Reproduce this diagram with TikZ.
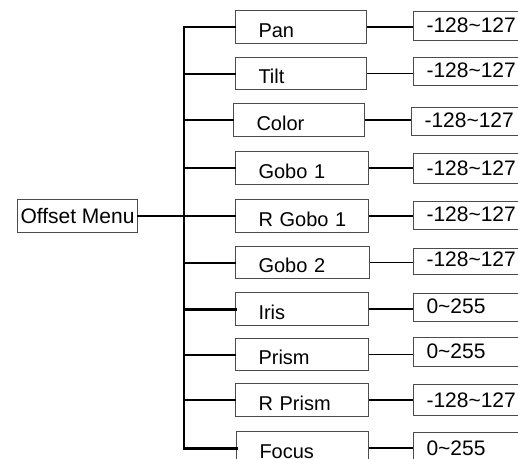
\documentclass[tikz,border=0pt]{standalone}
\usepackage{fontspec}
\setmainfont{Liberation Sans}
\tikzset{
  menubox/.style={draw=black!70, line width=1pt, anchor=north west, inner ysep=0pt, inner xsep=3pt,
    minimum width=120pt, text height=24pt, text depth=9pt, font=\fontsize{21}{25}\selectfont},
  namebox/.style={draw=black!70, line width=1pt, anchor=north west, inner ysep=0pt, inner xsep=23pt,
    text width=87pt, align=left, text height=27pt, text depth=6pt, font=\fontsize{20}{24}\selectfont},
  valuebox/.style={draw=black!70, line width=1pt, anchor=north west, inner ysep=0pt, inner xsep=13pt,
    text width=94pt, align=left, text height=21pt, text depth=8pt, font=\fontsize{21}{25}\selectfont},
  branch/.style={line width=2pt, line cap=rect},
  link/.style={line width=1.5pt},
}
\begin{document}
\begin{tikzpicture}[x=1pt,y=-1pt]
            \useasboundingbox (0,0) rectangle (518,458);
            \clip (0,0) rectangle (518,458);

            \node[menubox] (offset) at (17,199) {Offset Menu};

            \coordinate (trunk) at (184,0);

            \node[namebox, text width=85pt] (pan) at (235,10) {Pan};
            \node[namebox, text width=85pt, text height=26pt] (tilt) at (235,57) {Tilt};
            \node[namebox, text width=85pt] (color) at (233,103) {Color};
            \node[namebox] (gobo) at (235,151) {Gobo~1};
            \node[namebox] (rgobo) at (235,199) {R~Gobo~1};
            \node[namebox, text width=88pt, text height=26pt] (gobotwo) at (235,246) {Gobo~2};
            \node[namebox] (iris) at (235,292) {Iris};
            \node[namebox, text height=26pt] (prism) at (235,338) {Prism};
            \node[namebox] (rprism) at (235,383) {R~Prism};
            \node[namebox, text width=86pt] (focus) at (236,431) {Focus};

            \node[valuebox] (panv) at (413,11) {-128\textasciitilde127};
            \node[valuebox, text height=20pt] (tiltv) at (413,57) {-128\textasciitilde127};
            \node[valuebox, text height=20pt] (colorv) at (411,107) {-128\textasciitilde127};
            \node[valuebox, text height=22pt] (gobov) at (413,153) {-128\textasciitilde127};
            \node[valuebox, text height=20pt] (rgobov) at (413,201) {-128\textasciitilde127};
            \node[valuebox, text height=18pt] (gobotwov) at (413,248) {-128\textasciitilde127};
            \node[valuebox, text height=20pt] (irisv) at (413,293) {0\textasciitilde255};
            \node[valuebox] (prismv) at (413,337) {0\textasciitilde255};
            \node[valuebox, text height=23pt] (rprismv) at (413,384) {-128\textasciitilde127};
            \node[valuebox, text height=23pt] (focusv) at (413,432) {0\textasciitilde255};

            \draw[line width=2.6pt, line cap=rect] (trunk |- pan.west) -- (trunk |- focus.west);

            \draw[branch] (offset.east) -- (trunk |- offset.east);

            \draw[branch] (trunk |- pan.west) -- (pan.west);
            \draw[branch] (trunk |- tilt.west) -- (tilt.west);
            \draw[branch] (trunk |- color.west) -- (color.west);
            \draw[branch] (trunk |- gobo.west) -- (gobo.west);
            \draw[branch] (trunk |- rgobo.west) -- (rgobo.west);
            \draw[branch] (trunk |- gobotwo.west) -- (gobotwo.west);
            \draw[branch, line width=3pt] (trunk |- iris.west) -- (iris.west);
            \draw[branch] (trunk |- prism.west) -- (prism.west);
            \draw[branch] (trunk |- rprism.west) -- (rprism.west);
            \draw[branch, line width=3pt] (trunk |- focus.west) -- (focus.west);

            \draw[link] (pan.east) -- (pan.east -| panv.west);
            \draw[link] (tilt.east) -- (tilt.east -| tiltv.west);
            \draw[link] (color.east) -- (color.east -| colorv.west);
            \draw[link] (gobo.east) -- (gobo.east -| gobov.west);
            \draw[link] (rgobo.east) -- (rgobo.east -| rgobov.west);
            \draw[link] (gobotwo.east) -- (gobotwo.east -| gobotwov.west);
            \draw[link] (iris.east) -- (iris.east -| irisv.west);
            \draw[link] (prism.east) -- (prism.east -| prismv.west);
            \draw[link] (rprism.east) -- (rprism.east -| rprismv.west);
            \draw[link] (focus.east) -- (focus.east -| focusv.west);
        \end{tikzpicture}
\end{document}
